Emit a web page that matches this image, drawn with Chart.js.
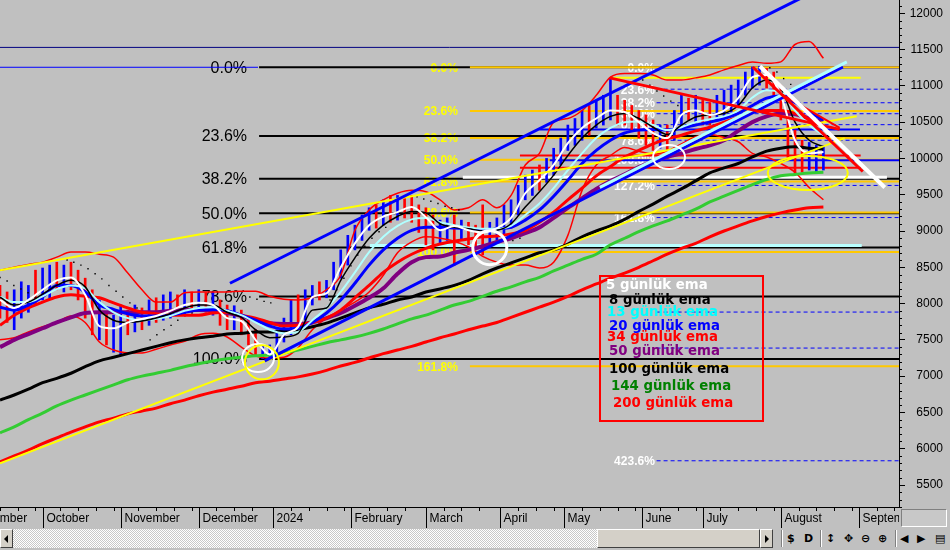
<!DOCTYPE html>
<html><head><meta charset="utf-8">
<script src="https://cdn.jsdelivr.net/npm/chart.js@4.4.1/dist/chart.umd.min.js"></script>
<style>
html,body{margin:0;padding:0;background:#c0c0c0;overflow:hidden;}
#wrap{position:relative;width:950px;height:550px;background:#c0c0c0;}
#c{position:absolute;left:0;top:0;}
.b3d{position:absolute;box-sizing:border-box;background:#d4d0c8;border:1px solid;border-color:#ffffff #404040 #404040 #ffffff;}
#sb{position:absolute;left:0;top:529px;width:950px;height:19px;}
#track{position:absolute;left:13px;top:0;width:584px;height:19px;background:repeating-conic-gradient(#ffffff 0% 25%,#c8c8c8 0% 50%) 0 0/2px 2px;}
.tri{position:absolute;top:5px;width:0;height:0;border-top:4px solid transparent;border-bottom:4px solid transparent;}
.ic{position:absolute;top:1px;font:bold 11px "DejaVu Sans",sans-serif;color:#000;line-height:17px;}
.sep{position:absolute;top:1px;width:1px;height:17px;background:#808080;border-right:1px solid #fff;}
#corner{position:absolute;left:901px;top:509px;width:46px;height:18px;box-sizing:border-box;border:1px solid;border-color:#808080 #ffffff #ffffff #808080;background:#c8c8c8;}
</style></head><body>
<div id="wrap">
<canvas id="c" width="950" height="528"></canvas>
<div id="corner"></div>
<div id="sb">
  <div class="b3d" style="left:0;top:0;width:13px;height:19px;"><div class="tri" style="left:3px;border-right:4px solid #000;"></div></div>
  <div id="track"></div>
  <div class="b3d" style="left:597px;top:0;width:163px;height:19px;"></div>
  <div class="b3d" style="left:760px;top:0;width:13px;height:19px;"><div class="tri" style="left:4px;border-left:4px solid #000;"></div></div>
  <div class="sep" style="left:781px;"></div>
  <span class="ic" style="left:787px;">$</span>
  <span class="ic" style="left:804px;">D</span>
  <div class="sep" style="left:820px;"></div>
  <span class="ic" style="left:826px;">↕</span>
  <span class="ic" style="left:844px;">✥</span>
  <span class="ic" style="left:861px;">⊖</span>
  <span class="ic" style="left:878px;">⊕</span>
  <div class="sep" style="left:895px;"></div>
  <span class="ic" style="left:900px;">◀</span>
  <span class="ic" style="left:917px;">▶</span>
  <span class="ic" style="left:935px;">▤</span>
</div>
</div>
<script>
// ---------- DATA ----------
const monthIdx = [-10, 12, 34, 56, 77, 99, 120, 141, 159, 181, 198, 220, 242];
const monthLabels = ['September','October','November','December','2024','February','March','April','May','June','July','August','September'];
const yTicks = [5500,6000,6500,7000,7500,8000,8500,9000,9500,10000,10500,11000,11500,12000];

const dayIdx = [0,4,8,12,16,20,24,28,32,36,40,44,48,52,56,60,64,68,72,76,80,84,88,92,96,100,104,108,112,116,120,124,128,132,136,140,144,148,152,156,160,164,168,172,176,180,184,188,192,196,200,204,208,212,216,220,224,228,232];

const ema5 = [8050,7940,8050,8190,8320,8360,8120,7690,7660,7740,7790,7830,7900,7980,8010,7980,7800,7760,7500,7300,7570,7680,8090,8140,8500,8830,9080,9200,9260,9330,9190,9010,9070,9010,8980,9040,9180,9520,9700,9910,10210,10420,10550,10660,10640,10500,10350,10280,10600,10660,10600,10660,10830,11120,11150,10870,10250,10070,10090];
const ema8 = [8090,7980,8020,8130,8250,8320,8230,7910,7770,7740,7760,7800,7860,7940,7980,7980,7880,7810,7640,7530,7540,7590,7910,7940,8320,8630,8900,9080,9200,9270,9250,9100,9050,9030,9000,9010,9100,9330,9540,9770,10040,10280,10460,10580,10620,10550,10430,10330,10460,10570,10600,10620,10730,10970,11080,10970,10500,10250,10160];
const ema13 = [8090,8020,8020,8100,8200,8250,8210,8020,7880,7800,7770,7790,7830,7900,7940,7950,7900,7840,7740,7640,7590,7610,7770,7940,8160,8430,8710,8920,9070,9160,9180,9120,9080,9050,9030,9030,9070,9220,9380,9590,9840,10070,10280,10420,10500,10510,10460,10390,10430,10500,10540,10580,10660,10840,10940,10910,10660,10460,10320];
const ema20 = [7950,7910,7980,8090,8250,8250,8160,7980,7920,7860,7830,7830,7840,7880,7910,7920,7900,7840,7770,7690,7650,7660,7740,7870,8050,8280,8530,8740,8900,9010,9050,9050,9040,9030,9010,9030,9050,9150,9290,9480,9700,9930,10110,10250,10350,10390,10400,10390,10420,10460,10500,10550,10620,10730,10830,10860,10770,10640,10530];
const ema34 = [7700,7840,7940,8020,8090,8120,8100,8080,8010,7940,7880,7860,7840,7840,7840,7870,7880,7840,7800,7740,7690,7700,7740,7800,7910,8080,8250,8430,8570,8680,8760,8820,8860,8890,8920,8930,8960,9010,9120,9260,9430,9590,9760,9890,10020,10110,10200,10270,10320,10380,10430,10500,10570,10640,10660,10660,10620,10540,10440];
const ema50 = [7400,7500,7580,7660,7740,7810,7870,7880,7880,7880,7880,7880,7900,7910,7910,7900,7870,7830,7770,7730,7720,7720,7740,7800,7870,7970,8080,8210,8410,8570,8640,8650,8700,8740,8790,8850,8900,8970,9050,9180,9320,9450,9580,9690,9780,9880,9960,10020,10070,10130,10180,10250,10380,10500,10580,10620,10610,10550,10500];
const ema100 = [6670,6740,6820,6910,6970,7040,7130,7210,7260,7310,7360,7410,7460,7500,7530,7550,7580,7590,7610,7610,7620,7640,7680,7730,7800,7870,7940,7990,8050,8090,8160,8200,8250,8320,8410,8490,8560,8630,8700,8740,8820,8920,9000,9070,9160,9270,9370,9480,9580,9690,9800,9870,9930,10020,10100,10140,10160,10140,10130];
const ema144 = [6220,6300,6400,6490,6590,6670,6740,6810,6880,6950,7000,7040,7080,7130,7170,7210,7240,7260,7280,7290,7320,7360,7410,7460,7500,7540,7590,7650,7720,7790,7840,7910,7980,8030,8100,8170,8230,8300,8360,8450,8530,8610,8680,8810,8900,8990,9070,9140,9220,9300,9400,9480,9560,9640,9710,9760,9780,9800,9810];
const ema200 = [5820,5900,5980,6070,6150,6230,6300,6370,6420,6480,6520,6560,6620,6670,6730,6780,6820,6860,6910,6930,6960,6990,7030,7080,7140,7190,7250,7310,7360,7410,7470,7530,7580,7640,7690,7740,7810,7880,7950,8020,8100,8190,8270,8350,8420,8500,8590,8680,8760,8830,8920,9000,9070,9140,9200,9250,9290,9320,9330];
const bandUpper = [8460,8500,8540,8570,8640,8710,8710,8680,8640,8420,8190,8020,8020,8150,8160,8160,8160,8170,8170,8100,8060,8050,8080,8190,8390,9010,9290,9430,9520,9560,9540,9430,9290,9320,9430,9320,9490,9910,10070,10500,10550,10660,10870,11120,11170,11170,11150,11080,11080,11110,11150,11220,11280,11330,11310,11330,11570,11610,11380];
const bandLower = [7500,7530,7610,7680,7740,7830,7740,7470,7360,7320,7320,7370,7430,7480,7570,7590,7540,7400,7280,7250,7260,7390,7640,7800,7910,8020,8160,8390,8700,8850,8920,8900,8860,8780,8650,8570,8530,8530,8490,8570,8940,9560,9910,10040,10150,10100,10060,10100,10200,10300,10330,10290,10230,10070,10020,9930,9810,9600,9430];

const barIdx = [0,2,4,6,8,10,12,14,16,18,20,22,24,26,28,30,32,34,36,38,40,42,44,46,48,50,52,54,56,58,60,62,64,66,68,70,72,74,76,78,80,82,84,86,88,90,92,94,96,98,100,102,104,106,108,110,112,114,116,118,120,122,124,126,128,130,132,134,136,138,140,142,144,146,148,150,152,154,156,158,160,162,164,166,168,170,172,174,176,178,180,182,184,186,188,190,192,194,196,198,200,202,204,206,208,210,212,214,216,218,220,222,224,226,228,230,232];
const barHigh = [8250,8160,8190,8300,8250,8460,8490,8530,8570,8530,8570,8460,8350,8190,8050,7880,7840,7980,7910,7980,7940,8050,8080,8120,8160,8120,8190,8160,8190,8150,8160,8050,7980,7970,7910,7800,7640,7430,7430,7640,7800,8050,8120,8190,8250,8300,8320,8570,8740,8940,9080,9220,9320,9360,9430,9490,9490,9450,9490,9360,9320,9220,9150,9180,9220,9150,9120,9080,9360,9120,9180,9360,9430,9630,9770,9840,9910,10000,10140,10280,10460,10550,10660,10730,10800,10870,11110,10870,10800,10730,10660,10600,10530,10460,10460,10660,10870,10830,10870,10800,10770,10870,10940,11010,11080,11190,11260,11270,11240,11190,11010,10660,10390,10250,10220,10180,10180];
const barLow = [7800,7740,7640,7800,7880,7980,8050,8080,8190,8160,8190,8050,7800,7570,7500,7430,7330,7290,7570,7610,7640,7700,7740,7770,7800,7840,7840,7880,7910,7880,7840,7700,7640,7640,7570,7430,7280,7240,7260,7290,7470,7570,7640,7770,7980,8050,8080,8190,8350,8530,8740,8870,9010,9040,9080,9120,9150,9180,9120,8980,8810,8740,8810,8870,8530,8870,8810,8740,8670,8810,8870,8940,9040,9220,9430,9490,9560,9670,9770,9910,10110,10180,10250,10320,10420,10460,10530,10460,10460,10390,10280,10180,10110,10140,10000,10250,10460,10530,10500,10460,10460,10530,10550,10640,10730,10870,10970,11010,10970,10870,10530,9980,9770,9810,9840,9810,9840];
const barUp = [0,0,1,1,1,0,1,1,0,1, 0,0,0,0,1,0,1,1,0,1, 0,1,0,1,1,0,1,0,1,0, 1,0,0,1,0,0,0,1,1,1, 1,1,0,1,1,0,1,1,1,1, 1,1,1,0,1,0,1,0,0,0, 0,0,1,1,0,1,0,0,0,1, 1,1,1,1,1,1,0,1,1,1, 1,1,1,0,1,1,1,0,0,0, 0,0,0,1,0,1,1,0,1,0, 0,1,1,1,1,1,1,1,0,0, 0,0,0,0,1,1,1];

const sarIdx = [0,2,3.9,5.9,7.9,9.9, 18.9,20.8,22.8,24.8,26.8,28.7,30.7,32.7,34.6,36.6,38.6, 42.3,44.2,46.2,48.2,50.1,52.1,54.1, 70.4,72.4,74.4,76.3, 93,94.9,96.9,98.9,100.8,102.8,104.8,106.8,108.7, 117.5,119.4,121.4,123.4,125.4,127.3,129.3, 142.5,144.5,146.5, 181.1,183.1,185.1,187,189,191, 216.9,218.9,220.8,222.8];
const sarVal = [8360,8310,8250,8200,8150,8090, 8600,8570,8530,8480,8410,8340,8250,8170,8090,8010,7940, 7500,7570,7640,7700,7770,7830,7870, 8090,8060,8030,8010, 8050,8190,8350,8520,8670,8790,8900,8990,9050, 9470,9440,9410,9380,9340,9320,9290, 8830,8870,8900, 11080,11010,10930,10860,10790,10730, 11250,11190,11100,11020];

// Fibonacci sets (levels in price, labels)
const fibALevels = [11256,10310,9720,9246,8772,8097,7236];
const fibALabels = ['0.0%','23.6%','38.2%','50.0%','61.8%','78.6%','100.0%'];
const fibBLevels = [11256,10655,10283,9982,9682,9254,8709,7135];
const fibBLabels = ['0.0%','23.6%','38.2%','50.0%','61.8%','78.6%','100.0%','161.8%'];
const fibCLevels = [11256,10954,10767,10616,10465,10250,9976,9628,9185,7883,7387,5834];
const fibCLabels = ['0.0%','23.6%','38.2%','50.0%','61.8%','78.6%','100.0%','127.2%','161.8%','','','423.6%'];
const fibAStart = 73, fibBStart = 132.4, fibCStart = 185;
const fibALabelAt = 69.6, fibBLabelAt = 129, fibCLabelAt = 184.5;

// other horizontal levels: [fromDay, toDay, price]
const navyLine = [0, 253.3, 11530];
const blueLeftLine = [0, 72.7, 11256];
const blueBaseLine = [154.9, 253.3, 9976];
const blueMidLine = [152, 242.3, 10400];
const redLineA = [146.5, 242.5, 10040];
const redLineB = [146.5, 242.5, 9870];
const yellowTopLine = [171.8, 242.5, 11110];
const cyanLine = [104.2, 242.8, 8800];
const whiteLine = [130.4, 249.9, 9740];

// trend lines: [[day, price],[day, price]]
const trendBlueUp = [[64.8, 8280],[228.2, 12270]];
const trendBlueLow = [[74.6, 7210],[237.5, 11260]];
const trendCyan = [[169, 9600],[238.6, 11330]];
const trendYellowUp = [[0, 8460],[241.4, 10580]];
const trendYellowLow = [[0, 5800],[238, 10280]];
const trendWhite = [[214.1, 11270],[249.3, 9600]];
const trendRedA = [[212.1, 11260],[243.1, 9820]];
const trendRedB = [[171.8, 11110],[236.6, 10400]];
const trendRedC = [[219.7, 10900],[236.6, 10420]];

// marked spots [day, price]
const spotAt = [[138, 8770],[188.5, 10020],[72.7, 7250],[73.8, 7190],[227.6, 9800]];

const legendLabels = ['5 günlük ema','8 günlük ema','13 günlük ema','20 günlük ema','34 günlük ema','50 günlük ema','100 günlük ema','144 günlük ema','200 günlük ema'];

// ---------- STYLE ----------
const X_MAX = 253.3;
const spotStyle = [{rx:17,ry:17,c:'#ffffff',w:3},{rx:16,ry:12,c:'#ffffff',w:2},{rx:16,ry:14,c:'#ffffff',w:2},{rx:17,ry:17,c:'#ffff00',w:2},{rx:40,ry:17,c:'#ffff00',w:2}];
const legendColors = ['#ffffff','#000000','#00ffff','#0000ff','#ff0000','#800080','#000000','#008000','#ff0000'];
const legendPos = [[606,286],[609,301],[607,313],[609,327],[607,338],[609,352],[609,370],[611,387],[613,404]];
const SANS = '"Liberation Sans", Arial, sans-serif';

const layers = [];
function hline(x0, x1, v, color, width, dash) {
  layers.push({type:'line', data:[{x:x0,y:v},{x:x1,y:v}], borderColor:color, borderWidth:width, borderDash:dash||[], pointRadius:0, pointHoverRadius:0, fill:false, tension:0});
}
function seg(pts, color, width) {
  layers.push({type:'line', data:pts.map(p=>({x:p[0],y:p[1]})), borderColor:color, borderWidth:width, pointRadius:0, pointHoverRadius:0, fill:false, tension:0});
}
function series(arr, color, width) {
  layers.push({type:'line', data:dayIdx.map((d,i)=>({x:d,y:arr[i]})), borderColor:color, borderWidth:width, pointRadius:0, pointHoverRadius:0, fill:false, cubicInterpolationMode:'monotone'});
}
const hl = (a, color, width, dash) => hline(a[0], a[1], a[2], color, width, dash);

hl(navyLine, '#000080', 1);
hl(blueLeftLine, '#0000ff', 1);
fibALevels.forEach(v => hline(fibAStart, X_MAX, v, '#000000', 2));
fibCLevels.forEach((v,i) => { if (i !== 0 && i !== 6) hline(fibCStart, X_MAX, v, '#0000ff', 1, [4,3]); });
hline(fibCStart, X_MAX, fibCLevels[0], '#0000ff', 2);
fibBLevels.forEach(v => hline(fibBStart, X_MAX, v, '#ffc800', 2));
hl(blueBaseLine, '#0000ff', 2);
hl(blueMidLine, '#0000ff', 2);
hl(redLineA, '#ff0000', 2);
hl(redLineB, '#ff0000', 2);
hl(yellowTopLine, '#ffff00', 2);
hl(cyanLine, '#b8ffff', 3);
hl(whiteLine, '#ffffff', 3);

layers.push({type:'bar', data:barIdx.map((d,i)=>({x:d, y:[barLow[i], barHigh[i]]})),
  backgroundColor:barIdx.map((d,i)=> barUp[i] ? '#0000ff' : '#ff0000'), borderWidth:0, barThickness:2});

series(bandUpper, '#ff0000', 1.5);
series(bandLower, '#ff0000', 1.5);
layers.push({type:'line', data:sarIdx.map((d,i)=>({x:d,y:sarVal[i]})), showLine:false, pointRadius:1, pointHoverRadius:1, pointStyle:'rect', pointBackgroundColor:'#000', pointBorderWidth:0, borderColor:'#000'});

series(ema200, '#ff0000', 3);
series(ema144, '#33cc33', 3);
series(ema100, '#000000', 3);
series(ema50, '#800080', 4);
series(ema34, '#ff0000', 3);
series(ema20, '#0000ff', 3);
series(ema13, '#b0ffff', 2);
series(ema8, '#000000', 1.5);
series(ema5, '#ffffff', 2);

seg(trendYellowUp, '#ffff00', 2);
seg(trendYellowLow, '#ffff00', 2);
seg(trendBlueUp, '#0000ff', 3);
seg(trendBlueLow, '#0000ff', 3);
seg(trendCyan, '#b0ffff', 3);
seg(trendRedB, '#ff0000', 3);
seg(trendRedC, '#ff0000', 2);
seg(trendRedA, '#ff0000', 3);
seg(trendWhite, '#ffffff', 4);

layers.forEach((d,i)=>{ d.order = layers.length - i; });

const overlay = {
  id:'overlay',
  beforeDatasetsDraw(chart) {
    const {ctx, chartArea:a, scales:{x, y}} = chart;
    ctx.save();
    ctx.beginPath(); ctx.rect(a.left, a.top, a.right-a.left, a.bottom-a.top); ctx.clip();
    ctx.textAlign = 'right'; ctx.textBaseline = 'middle';
    const put = (levels, labels, at, font, color) => {
      ctx.font = font; ctx.fillStyle = color;
      labels.forEach((t,i) => { if (t) ctx.fillText(t, x.getPixelForValue(at), y.getPixelForValue(levels[i]) + 1); });
    };
    put(fibALevels, fibALabels, fibALabelAt, '16px ' + SANS, '#000000');
    put(fibBLevels, fibBLabels, fibBLabelAt, 'bold 12px ' + SANS, '#ffff00');
    put(fibCLevels, fibCLabels, fibCLabelAt, 'bold 12px ' + SANS, '#ffffff');
    ctx.restore();
  },
  afterDatasetsDraw(chart) {
    const {ctx, chartArea:a, scales:{x, y}} = chart;
    ctx.save();
    ctx.beginPath(); ctx.rect(a.left, a.top, a.right-a.left, a.bottom-a.top); ctx.clip();
    spotAt.forEach((p,i) => {
      const s = spotStyle[i];
      ctx.beginPath();
      ctx.ellipse(x.getPixelForValue(p[0]), y.getPixelForValue(p[1]), s.rx, s.ry, 0, 0, Math.PI*2);
      ctx.strokeStyle = s.c; ctx.lineWidth = s.w; ctx.stroke();
    });
    ctx.strokeStyle = '#ff0000'; ctx.lineWidth = 2;
    ctx.strokeRect(600, 276, 163, 145);
    ctx.font = 'bold 13.3px "DejaVu Sans", sans-serif';
    ctx.textAlign = 'left'; ctx.textBaseline = 'middle';
    legendLabels.forEach((t,i) => { ctx.fillStyle = legendColors[i]; ctx.fillText(t, legendPos[i][0], legendPos[i][1]); });
    ctx.restore();
  },
  afterDraw(chart) {
    const {ctx, chartArea:a, scales:{x, y}} = chart;
    const b = a.bottom;
    ctx.save();
    ctx.beginPath(); ctx.rect(0, b, a.right, 21); ctx.clip();
    ctx.strokeStyle = '#000'; ctx.lineWidth = 1; ctx.fillStyle = '#000';
    ctx.font = '12px ' + SANS; ctx.textAlign = 'left'; ctx.textBaseline = 'middle';
    monthIdx.forEach((m,i) => {
      const px = Math.round(x.getPixelForValue(m)) + 0.5;
      ctx.beginPath(); ctx.moveTo(px, b); ctx.lineTo(px, b+21); ctx.stroke();
      ctx.fillText(monthLabels[i], px + 3, b + 12);
      const next = i + 1 < monthIdx.length ? monthIdx[i+1] : m + 22;
      for (let w = m + 5; w < next - 1; w += 5) {
        const q = Math.round(x.getPixelForValue(w)) + 0.5;
        ctx.beginPath(); ctx.moveTo(q, b); ctx.lineTo(q, b+4); ctx.stroke();
      }
    });
    ctx.restore();
    ctx.save();
    ctx.strokeStyle = '#000'; ctx.lineWidth = 1;
    const ax = Math.round(a.right);
    for (let v = 5200; v <= 12100; v += 100) {
      if (v % 500 === 0) continue;
      const py = Math.round(y.getPixelForValue(v)) + 0.5;
      ctx.beginPath(); ctx.moveTo(ax, py); ctx.lineTo(ax + 3, py); ctx.stroke();
    }
    ctx.restore();
  }
};

new Chart(document.getElementById('c'), {
  type:'line',
  data:{ datasets: layers },
  options:{
    responsive:false, animation:false, devicePixelRatio:1,
    layout:{ autoPadding:false, padding:{ left:0, right:7, top:0, bottom:0 } },
    plugins:{ legend:{display:false}, tooltip:{enabled:false} },
    events:[],
    scales:{
      x:{ type:'linear', min:0, max:X_MAX, offset:false,
          afterFit(s){ s.height = 21; s.paddingLeft = 0; s.paddingRight = 0; },
          ticks:{display:false}, grid:{display:false, drawTicks:false},
          border:{display:true, color:'#000', width:1} },
      y:{ type:'linear', position:'right', min:5197, max:12183,
          afterFit(s){ s.width = 44; s.paddingTop = 0; s.paddingBottom = 0; },
          afterBuildTicks(s){ s.ticks = yTicks.map(v => ({value:v})); },
          ticks:{ color:'#000', font:{family:'"Liberation Sans", Arial, sans-serif', size:12}, crossAlign:'far', autoSkip:false, callback:(v)=>String(v) },
          grid:{ drawOnChartArea:false, drawTicks:true, tickLength:6, color:'#000', tickColor:'#000' },
          border:{ display:true, color:'#000', width:1 } }
    }
  },
  plugins:[overlay]
});
</script>
</body></html>
